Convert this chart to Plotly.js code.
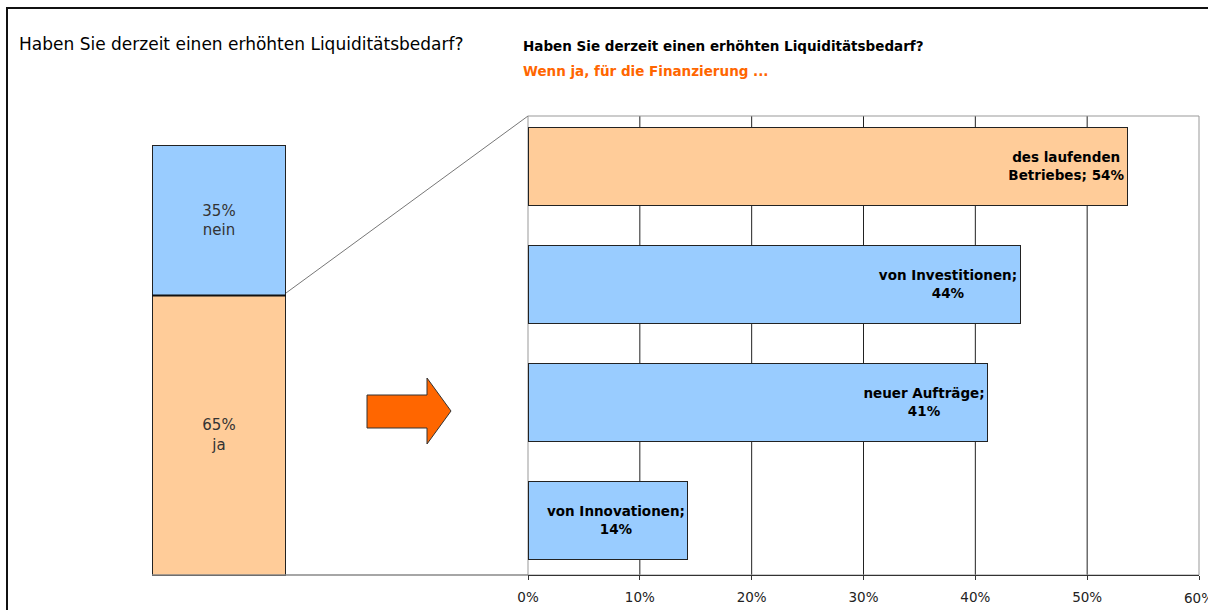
<!DOCTYPE html>
<html>
<head>
<meta charset="utf-8">
<script src="https://cdn.plot.ly/plotly-3.0.1.min.js"></script>
<style>html,body{margin:0;padding:0;background:#fff;overflow:hidden;}#chart{width:1208px;height:610px;}</style>
</head>
<body>
<div id="chart"></div>
<script>
// ---- data ----
const titleLeft = "Haben Sie derzeit einen erhöhten Liquiditätsbedarf?";
const titleRight = "Haben Sie derzeit einen erhöhten Liquiditätsbedarf?";
const subtitleRight = "Wenn ja, für die Finanzierung ...";
const answerLabels = ["ja", "nein"];
const answerShares = [65, 35];
const categories = ["des laufenden Betriebes", "von Investitionen", "neuer Aufträge", "von Innovationen"];
const shares = [53.6, 44.0, 41.1, 14.3];
const tickValues = [0, 10, 20, 30, 40, 50, 60];
const gridValues = [10, 20, 30, 40, 50];

// ---- helpers ----
const W = 1208, H = 610;
const px = x => x / W;
const py = y => 1 - y / H;
const FONT = "DejaVu Sans, Verdana, sans-serif";
const ORANGE = "#FFCC99", BLUE = "#99CCFF";

const barText = categories.map((c, i) => {
  const pct = Math.round(shares[i]) + "%";
  if (i === 0) return c.replace(" Betriebes", "<br>Betriebes") + "; " + pct;
  return c + ";<br>" + pct;
});
const tickText = tickValues.map(v => v + "%");

const traces = [
  {
    type: "bar", orientation: "h",
    x: shares, y: categories,
    width: 0.661,
    marker: {color: categories.map((c, i) => i === 0 ? ORANGE : BLUE), line: {color: "#222", width: 1}},
    text: barText, textposition: "inside", insidetextanchor: "end", textangle: 0,
    constraintext: "none",
    textfont: {family: FONT, size: 13.5, color: "#000", weight: "bold"},
    hoverinfo: "skip", showlegend: false
  }
];
const answerColors = [ORANGE, BLUE];
answerLabels.forEach((lab, i) => {
  traces.push({
    type: "bar", x: [0], y: [answerShares[i]], width: 1,
    xaxis: "x2", yaxis: "y2",
    marker: {color: answerColors[i], line: {color: "#222", width: 1}},
    text: [answerShares[i] + "%<br>" + lab], textposition: "inside", insidetextanchor: "middle",
    textangle: 0, constraintext: "none",
    textfont: {family: FONT, size: 15, color: "#333"},
    hoverinfo: "skip", showlegend: false
  });
});

const shapes = [];
// outer frame
shapes.push({type: "line", xref: "paper", yref: "paper", x0: px(6), y0: py(8), x1: px(1230), y1: py(8),
  line: {color: "#111", width: 2}});
shapes.push({type: "line", xref: "paper", yref: "paper", x0: px(7), y0: py(7), x1: px(7), y1: py(630),
  line: {color: "#111", width: 2}});
// grid lines
gridValues.forEach(v => shapes.push({type: "line", xref: "x", yref: "paper", x0: v, x1: v, y0: py(575), y1: py(116),
  line: {color: "#222", width: 1}, layer: "below"}));
// plot frame
shapes.push({type: "rect", xref: "paper", yref: "paper", x0: px(528), x1: px(1199), y0: py(575), y1: py(116),
  line: {color: "#999", width: 1}, layer: "below"});
// zoom connector and baseline
shapes.push({type: "line", xref: "paper", yref: "paper", x0: px(286), y0: py(293), x1: px(528), y1: py(116),
  line: {color: "#777", width: 1}});
shapes.push({type: "line", xref: "paper", yref: "paper", x0: px(152), y0: py(575), x1: px(528), y1: py(575),
  line: {color: "#888", width: 1.5}});
// stack divider
shapes.push({type: "line", xref: "x2", yref: "y2", x0: -0.5, x1: 0.5, y0: answerShares[0], y1: answerShares[0],
  line: {color: "#111", width: 2}});
// arrow
const arrowPts = [[367, 395], [427, 395], [427, 378], [451, 411], [427, 444], [427, 428], [367, 428]];
shapes.push({type: "path", xref: "paper", yref: "paper",
  path: "M" + arrowPts.map(p => px(p[0]) + "," + py(p[1])).join(" L") + " Z",
  fillcolor: "#FF6600", line: {color: "#333", width: 1}});

const layout = {
  width: W, height: H,
  margin: {l: 0, r: 0, t: 0, b: 0},
  paper_bgcolor: "#fff", plot_bgcolor: "rgba(0,0,0,0)",
  barmode: "stack",
  showlegend: false,
  font: {family: FONT},
  xaxis: {domain: [px(528), px(1199)], range: [0, 60], tickvals: tickValues, ticktext: tickText,
    showgrid: false, zeroline: false, showline: true, linecolor: "#333", linewidth: 1,
    ticks: "outside", ticklen: 4, tickcolor: "#333", ticklabelstandoff: 6,
    tickfont: {family: FONT, size: 13.5, color: "#222"}, fixedrange: true},
  yaxis: {domain: [py(575), py(116)], type: "category", range: [3.466, -0.424],
    showticklabels: false, showgrid: false, zeroline: false, showline: false, ticks: "", fixedrange: true},
  xaxis2: {domain: [px(150.7), px(287.3)], range: [-0.51, 0.51], visible: false, anchor: "y2", fixedrange: true},
  yaxis2: {domain: [py(579.3), py(140.7)], range: [-1, 101], visible: false, anchor: "x2", fixedrange: true},
  shapes: shapes,
  annotations: [
    {text: titleLeft, xref: "paper", yref: "paper", x: px(17), y: py(44), xanchor: "left", yanchor: "middle",
      showarrow: false, font: {family: FONT, size: 17, color: "#000"}},
    {text: titleRight, xref: "paper", yref: "paper", x: px(521), y: py(46), xanchor: "left", yanchor: "middle",
      showarrow: false, font: {family: FONT, size: 13.5, color: "#000", weight: "bold"}},
    {text: subtitleRight, xref: "paper", yref: "paper", x: px(521), y: py(71), xanchor: "left", yanchor: "middle",
      showarrow: false, font: {family: FONT, size: 13.5, color: "#FF6600", weight: "bold"}},
    {text: tickText[tickText.length - 1], xref: "x", yref: "paper", x: tickValues[tickValues.length - 1], y: py(598),
      xanchor: "center", yanchor: "middle", showarrow: false, font: {family: FONT, size: 13.5, color: "#222"}}
  ]
};

Plotly.newPlot("chart", traces, layout, {displayModeBar: false, staticPlot: true});
</script>
</body>
</html>
